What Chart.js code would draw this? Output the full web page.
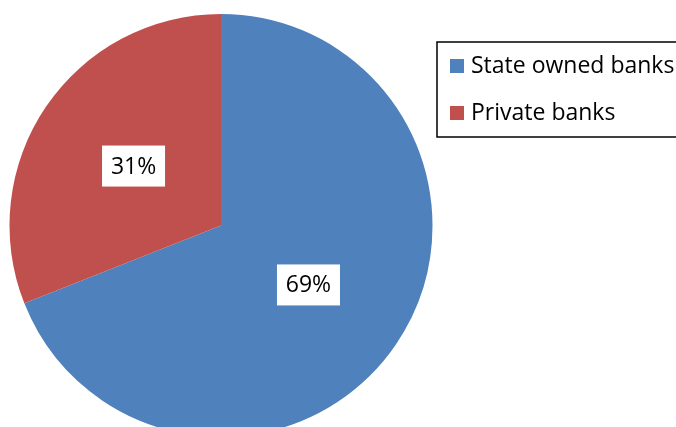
<!DOCTYPE html>
<html>
<head>
<meta charset="utf-8">
<script src="https://cdn.jsdelivr.net/npm/chart.js@4"></script>
<style>
  html, body { margin: 0; padding: 0; background: #fff; overflow: hidden; }
  #wrap { width: 676px; height: 427px; overflow: hidden; }
</style>
</head>
<body>
<div id="wrap"><canvas id="pie" width="676" height="460"></canvas></div>
<script>
const categories = ["State owned banks", "Private banks"];
const shares = [69, 31];
const colors = ["#4F81BD", "#C0504D"];

const FONT = "'Open Sans', sans-serif";

/* =========================
   PERCENT LABELS IN WHITE BOXES
========================= */
const boxLabels = {
    id: "boxLabels",
    afterDatasetsDraw(chart) {
        const ctx = chart.ctx;
        const meta = chart.getDatasetMeta(0);
        ctx.save();
        ctx.font = "23px " + FONT;
        ctx.textAlign = "center";
        ctx.textBaseline = "middle";
        meta.data.forEach((arc, i) => {
            const p = arc.getCenterPoint();
            const text = shares[i] + "%";
            const w = 63;
            const h = 41;
            ctx.fillStyle = "#fff";
            ctx.fillRect(p.x - w / 2, p.y - h / 2, w, h);
            ctx.fillStyle = "#000";
            ctx.fillText(text, p.x, p.y + 1);
        });
        ctx.restore();
    }
};

/* =========================
   BOXED LEGEND ON THE RIGHT
========================= */
const boxLegend = {
    id: "boxLegend",
    afterDraw(chart) {
        const ctx = chart.ctx;
        ctx.save();
        ctx.strokeStyle = "#000";
        ctx.lineWidth = 1.5;
        ctx.strokeRect(437, 42, 260, 95);
        ctx.font = "23px " + FONT;
        ctx.textBaseline = "middle";
        categories.forEach((name, i) => {
            const y = 66 + i * 47;
            ctx.fillStyle = colors[i];
            ctx.fillRect(450, y - 7, 14, 14);
            ctx.fillStyle = "#000";
            ctx.fillText(name, 471, y);
        });
        ctx.restore();
    }
};

const ctx = document.getElementById("pie").getContext("2d");
new Chart(ctx, {
    type: "pie",
    data: {
        labels: categories,
        datasets: [{
            data: shares,
            backgroundColor: colors,
            borderWidth: 0
        }]
    },
    options: {
        responsive: false,
        animation: false,
        layout: { padding: { left: 9.5, top: 14, right: 243.5, bottom: 23 } },
        plugins: {
            legend: { display: false },
            tooltip: { enabled: false }
        }
    },
    plugins: [boxLabels, boxLegend]
});
</script>
</body>
</html>
